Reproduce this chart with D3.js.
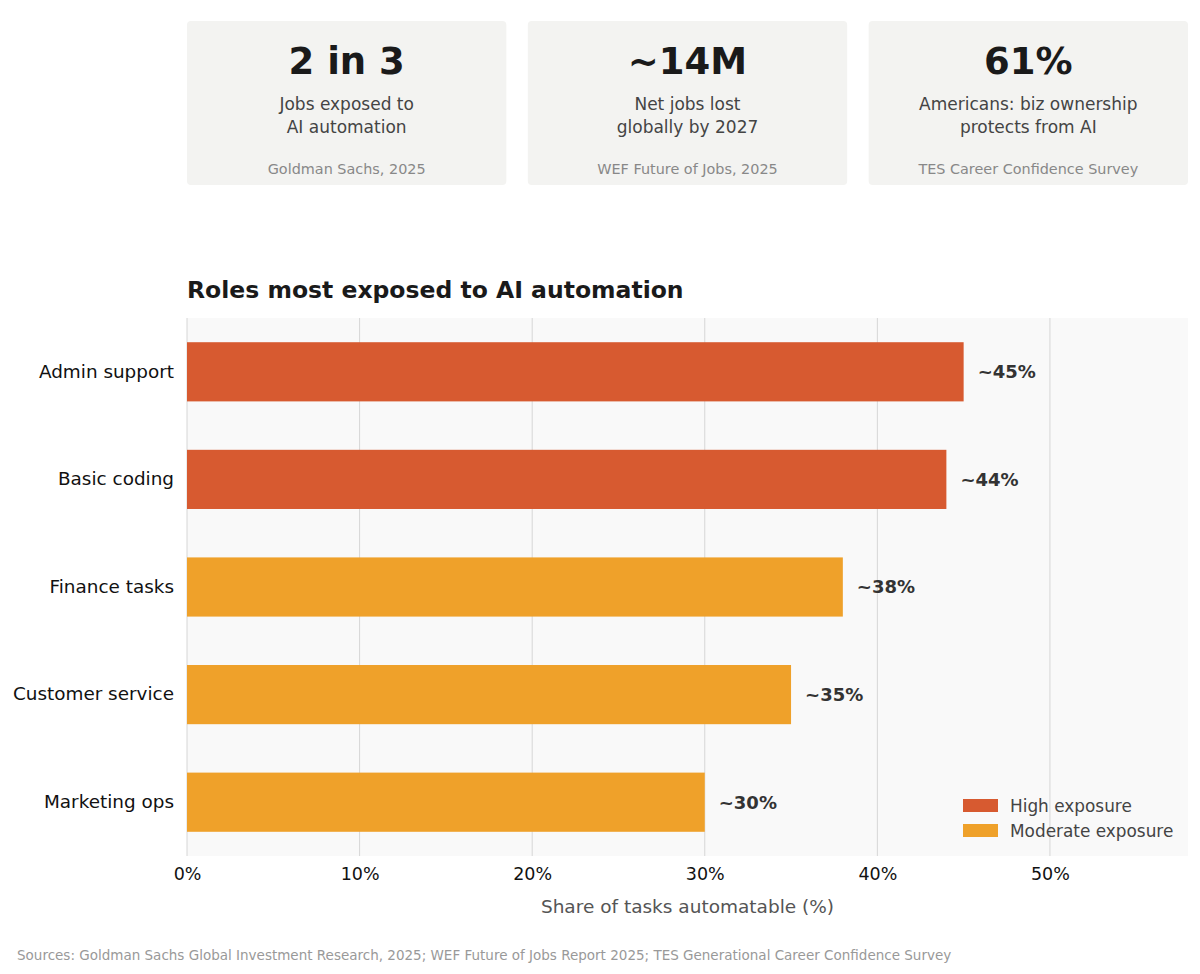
<!DOCTYPE html>
<html>
<head>
<meta charset="utf-8">
<script src="https://cdn.jsdelivr.net/npm/d3@7"></script>
<style>
  body { margin: 0; background: #ffffff; }
  svg { display: block; font-family: "DejaVu Sans", sans-serif; }
</style>
</head>
<body>
<div id="chart"></div>
<script>
// stat cards
const cardValues = ["2 in 3", "~14M", "61%"];
const cardLines = [
  ["Jobs exposed to", "AI automation"],
  ["Net jobs lost", "globally by 2027"],
  ["Americans: biz ownership", "protects from AI"]
];
const cardSources = ["Goldman Sachs, 2025", "WEF Future of Jobs, 2025", "TES Career Confidence Survey"];

// bar chart data
const roles = ["Admin support", "Basic coding", "Finance tasks", "Customer service", "Marketing ops"];
const shares = [45, 44, 38, 35, 30];
const levels = ["High exposure", "High exposure", "Moderate exposure", "Moderate exposure", "Moderate exposure"];
const legendLabels = ["High exposure", "Moderate exposure"];
const xTicks = [0, 10, 20, 30, 40, 50];

const W = 1200, H = 974;
const svg = d3.select("#chart").append("svg")
    .attr("width", W)
    .attr("height", H);

// --- cards ---
const cardX = d3.scaleBand()
    .domain(d3.range(cardValues.length))
    .range([187, 1188])
    .paddingInner(0.063);

const cards = svg.selectAll("g.card")
  .data(cardValues)
  .enter().append("g")
    .attr("class", "card")
    .attr("transform", (d, i) => "translate(" + cardX(i) + ",21)");

cards.append("rect")
    .attr("width", cardX.bandwidth())
    .attr("height", 164)
    .attr("rx", 4)
    .attr("fill", "#f3f3f1");

cards.append("text")
    .attr("x", cardX.bandwidth() / 2)
    .attr("y", 53)
    .attr("text-anchor", "middle")
    .attr("font-size", "37px")
    .attr("font-weight", "bold")
    .attr("fill", "#1a1a1a")
    .text(d => d);

cards.each(function(d, i) {
  const g = d3.select(this);
  cardLines[i].forEach((line, j) => {
    g.append("text")
      .attr("x", cardX.bandwidth() / 2)
      .attr("y", 89 + j * 23)
      .attr("text-anchor", "middle")
      .attr("font-size", "17px")
      .attr("fill", "#444")
      .text(line);
  });
  g.append("text")
    .attr("x", cardX.bandwidth() / 2)
    .attr("y", 153)
    .attr("text-anchor", "middle")
    .attr("font-size", "14.4px")
    .attr("fill", "#888")
    .text(cardSources[i]);
});

// --- bar chart ---
const margin = { top: 318, right: 12, bottom: 118, left: 187 };
const width = W - margin.left - margin.right;
const height = H - margin.top - margin.bottom;

const colour = d3.scaleOrdinal()
    .domain(legendLabels)
    .range(["#d75a30", "#efa12a"]);

svg.append("text")
    .attr("x", margin.left)
    .attr("y", 298)
    .attr("font-size", "23.5px")
    .attr("font-weight", "bold")
    .attr("fill", "#1a1a1a")
    .text("Roles most exposed to AI automation");

const g = svg.append("g")
    .attr("transform", "translate(" + margin.left + "," + margin.top + ")");

const x = d3.scaleLinear()
    .domain([0, 58])
    .range([0, width]);

const y = d3.scaleBand()
    .domain(roles)
    .range([0, height])
    .paddingInner(0.45)
    .paddingOuter(0.225);

// plot background
g.append("rect")
    .attr("width", width)
    .attr("height", height)
    .attr("fill", "#f9f9f9");

// grid
g.selectAll("line.grid")
  .data(xTicks)
  .enter().append("line")
    .attr("class", "grid")
    .attr("x1", d => x(d)).attr("x2", d => x(d))
    .attr("y1", 0).attr("y2", height)
    .attr("stroke", "#d6d6d6")
    .attr("stroke-width", 1);

// bars
g.selectAll("rect.bar")
  .data(roles)
  .enter().append("rect")
    .attr("class", "bar")
    .attr("x", x(0))
    .attr("y", d => y(d))
    .attr("width", (d, i) => x(shares[i]) - x(0))
    .attr("height", y.bandwidth())
    .attr("fill", (d, i) => colour(levels[i]));

// value labels
g.selectAll("text.val")
  .data(roles)
  .enter().append("text")
    .attr("class", "val")
    .attr("x", (d, i) => x(shares[i]) + 14)
    .attr("y", d => y(d) + y.bandwidth() / 2)
    .attr("dy", "0.35em")
    .attr("font-size", "18px")
    .attr("font-weight", "bold")
    .attr("fill", "#333")
    .text((d, i) => "~" + shares[i] + "%");

// y axis
const yAxis = g.append("g")
    .call(d3.axisLeft(y).tickSize(0).tickPadding(13));
yAxis.select(".domain").remove();
yAxis.selectAll("text")
    .attr("font-size", "18.4px")
    .attr("font-family", "DejaVu Sans, sans-serif")
    .attr("fill", "#111");

// x axis
const xAxis = g.append("g")
    .attr("transform", "translate(0," + height + ")")
    .call(d3.axisBottom(x).tickValues(xTicks).tickFormat(d => d + "%").tickSize(0).tickPadding(12));
xAxis.select(".domain").remove();
xAxis.selectAll("text")
    .attr("font-size", "17.5px")
    .attr("font-family", "DejaVu Sans, sans-serif")
    .attr("fill", "#111");

g.append("text")
    .attr("x", width / 2)
    .attr("y", height + 57)
    .attr("text-anchor", "middle")
    .attr("font-size", "18.5px")
    .attr("fill", "#555")
    .text("Share of tasks automatable (%)");

// legend
const legend = g.selectAll("g.legend")
  .data(legendLabels)
  .enter().append("g")
    .attr("class", "legend")
    .attr("transform", (d, i) => "translate(776," + (481 + i * 25) + ")");

legend.append("rect")
    .attr("width", 35)
    .attr("height", 13)
    .attr("fill", d => colour(d));

legend.append("text")
    .attr("x", 47)
    .attr("y", 7)
    .attr("dy", "0.35em")
    .attr("font-size", "16.9px")
    .attr("fill", "#444")
    .text(d => d);

// footer
svg.append("text")
    .attr("x", 17)
    .attr("y", 960)
    .attr("font-size", "13.5px")
    .attr("fill", "#999")
    .text("Sources: Goldman Sachs Global Investment Research, 2025; WEF Future of Jobs Report 2025; TES Generational Career Confidence Survey");
</script>
</body>
</html>
